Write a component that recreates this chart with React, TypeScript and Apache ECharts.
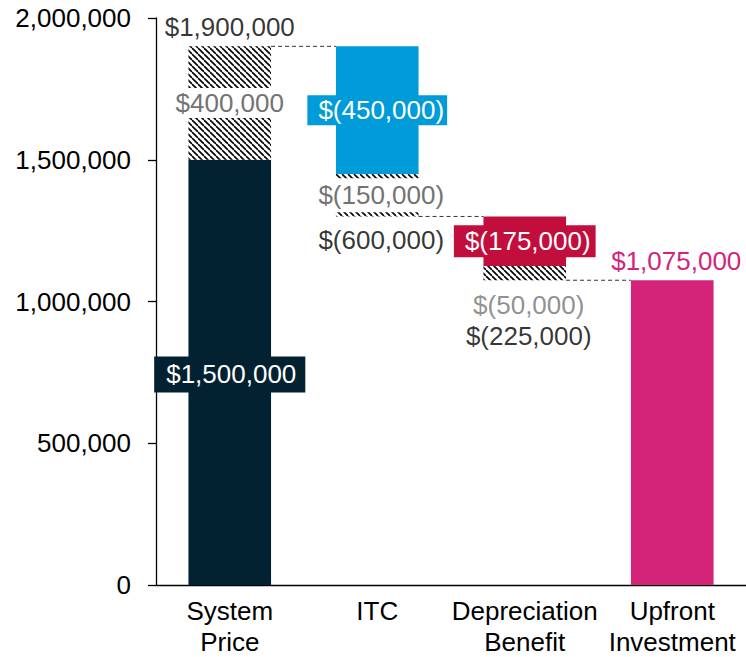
import React, { useEffect, useRef } from "react";
import * as echarts from "echarts";

const categories = ["System\nPrice", "ITC", "Depreciation\nBenefit", "Upfront\nInvestment"];
const baseValues = [0, 1300000, 1075000, 0];
const lowerValues = [1500000, 150000, 50000, 1075000];
const upperValues: (number | string)[] = [400000, 450000, 175000, "-"];
const connectorLevels = [1900000, 1300000, 1075000];
const yMin = 0;
const yMax = 2000000;
const yInterval = 500000;

const NAVY = "#032231";
const BLUE = "#009BD9";
const CRIMSON = "#C10E3C";
const MAGENTA = "#D3247A";
const GRAY = "#737373";
const FONT = "Liberation Sans, Arial, sans-serif";

function makeHatch() {
  const c = document.createElement("canvas");
  c.width = 6;
  c.height = 6;
  const ctx = c.getContext("2d")!;
  ctx.fillStyle = "#fff";
  ctx.fillRect(0, 0, 6, 6);
  ctx.strokeStyle = "#000";
  ctx.lineWidth = 1.6;
  for (let k = -1; k <= 1; k++) {
    ctx.beginPath();
    ctx.moveTo(0, k * 6);
    ctx.lineTo(6, 6 + k * 6);
    ctx.stroke();
  }
  return { image: c, repeat: "repeat" as const };
}

export default function App() {
  const ref = useRef<HTMLDivElement>(null);
  useEffect(() => {
    document.body.style.margin = "0";
    const chart = echarts.init(ref.current!, null, { renderer: "svg" });
    const hatch = makeHatch();
    const fs = 26;
    const lowerItems = [
      {
        value: lowerValues[0],
        itemStyle: { color: NAVY },
        label: { show: true, position: "inside", formatter: "$1,500,000", color: "#fff", backgroundColor: NAVY, padding: [5, 9, 5, 12], offset: [0, 2] },
      },
      {
        value: lowerValues[1],
        itemStyle: { color: hatch },
        label: { show: true, position: "inside", formatter: "$(150,000)", color: GRAY, backgroundColor: "#fff", padding: [4, 2], offset: [4, 0] },
      },
      { value: lowerValues[2], itemStyle: { color: hatch }, label: { show: false } },
      {
        value: lowerValues[3],
        itemStyle: { color: MAGENTA },
        label: { show: true, position: "top", distance: 6, formatter: "$1,075,000", color: MAGENTA, offset: [4, 0] },
      },
    ];
    const upperItems = [
      {
        value: upperValues[0],
        itemStyle: { color: hatch },
        label: { show: true, position: "inside", formatter: "$400,000", color: GRAY, backgroundColor: "#fff", padding: [2, 4] },
      },
      {
        value: upperValues[1],
        itemStyle: { color: BLUE },
        label: { show: true, position: "inside", formatter: "$(450,000)", color: "#fff", backgroundColor: BLUE, padding: [2, 3, 2, 11] },
      },
      {
        value: upperValues[2],
        itemStyle: { color: CRIMSON },
        label: { show: true, position: "inside", formatter: "$(175,000)", color: "#fff", backgroundColor: CRIMSON, padding: [3, 5, 3, 11] },
      },
      "-",
    ];
    const annotations = [
      { value: [0, 1900000], label: { show: true, position: "top", distance: 6, formatter: "$1,900,000", color: "#000" } },
      { value: [1, 1300000], label: { show: true, position: "bottom", distance: 11, formatter: "$(600,000)", color: "#000", offset: [4, 0] } },
      {
        value: [2, 1075000],
        label: {
          show: true,
          position: "bottom",
          distance: 9,
          formatter: "{g|$(50,000)}\n{b|$(225,000)}",
          offset: [4, 0],
          rich: {
            g: { color: GRAY, fontSize: fs, fontFamily: FONT, lineHeight: 31 },
            b: { color: "#000", fontSize: fs, fontFamily: FONT, lineHeight: 31 },
          },
        },
      },
    ];
    chart.setOption({
      animation: false,
      textStyle: { fontFamily: FONT, fontSize: fs },
      grid: { left: 156, right: -3, top: 18, bottom: 71, containLabel: false },
      xAxis: {
        type: "category",
        data: categories,
        axisTick: { show: false },
        axisLine: { lineStyle: { color: "#000", width: 1.3 } },
        axisLabel: { interval: 0, color: "#000", fontSize: 26, lineHeight: 31, margin: 10, fontFamily: FONT },
      },
      yAxis: {
        type: "value",
        min: yMin,
        max: yMax,
        interval: yInterval,
        splitLine: { show: false },
        axisLine: { show: true, lineStyle: { color: "#000", width: 1.3 } },
        axisTick: { show: true, length: 8, lineStyle: { color: "#000", width: 1.3 } },
        axisLabel: {
          color: "#000",
          fontSize: 26,
          margin: 25,
          fontFamily: FONT,
          formatter: (v: number) => v.toLocaleString("en-US"),
        },
      },
      series: [
        {
          type: "bar",
          stack: "w",
          barWidth: "56%",
          data: baseValues,
          itemStyle: { color: "rgba(0,0,0,0)" },
          silent: true,
        },
        {
          type: "bar",
          stack: "w",
          data: lowerItems,
          label: { fontSize: fs, fontFamily: FONT },
        },
        {
          type: "bar",
          stack: "w",
          data: upperItems,
          label: { fontSize: fs, fontFamily: FONT },
        },
        {
          type: "custom",
          data: connectorLevels.map((v, i) => [i, v]),
          renderItem: (params: any, api: any) => {
            const p = api.coord([api.value(0), api.value(1)]);
            const bw = api.size([1, 0])[0];
            const half = bw * 0.28;
            return {
              type: "line",
              shape: { x1: p[0] + half, y1: p[1], x2: p[0] + bw - half, y2: p[1] },
              style: { stroke: "#333", lineWidth: 1, lineDash: [4, 3] },
            };
          },
          silent: true,
          z: 5,
        },
        {
          type: "scatter",
          symbolSize: 0,
          data: annotations,
          label: { fontSize: fs, fontFamily: FONT },
          silent: true,
          z: 6,
        },
      ],
    });
    return () => chart.dispose();
  }, []);
  return <div ref={ref} style={{ width: 746, height: 657 }} />;
}
